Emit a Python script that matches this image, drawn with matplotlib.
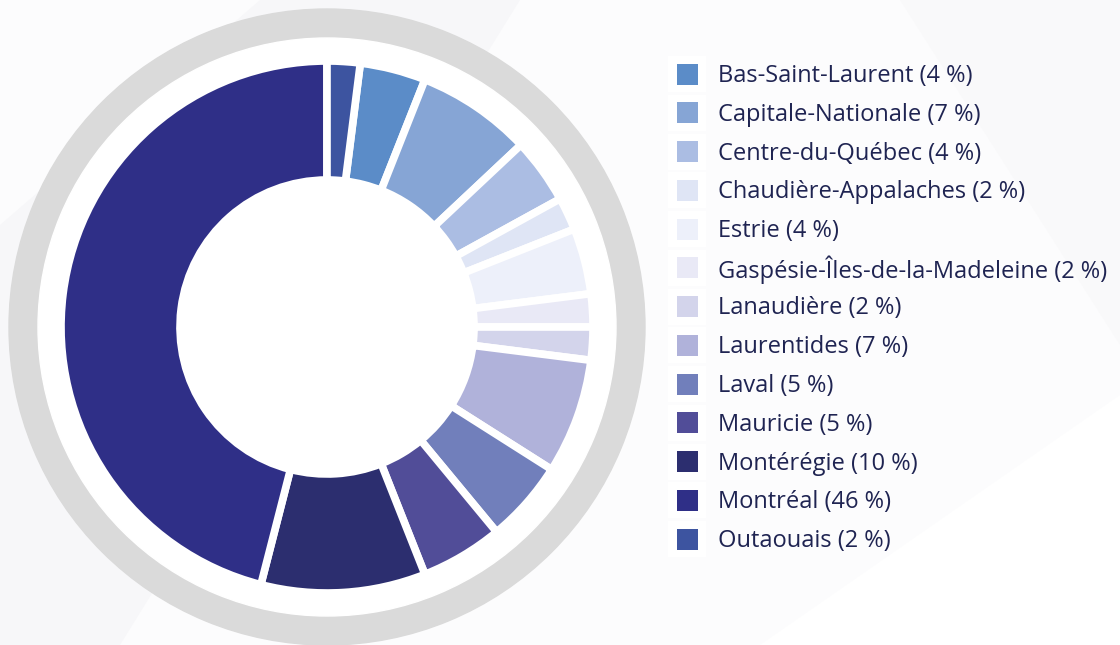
import matplotlib.pyplot as plt
from matplotlib.patches import Wedge, Rectangle, Polygon

# data
regions = ["Bas-Saint-Laurent", "Capitale-Nationale", "Centre-du-Québec",
           "Chaudière-Appalaches", "Estrie", "Gaspésie-Îles-de-la-Madeleine",
           "Lanaudière", "Laurentides", "Laval", "Mauricie", "Montérégie",
           "Montréal", "Outaouais"]
shares = [4, 7, 4, 2, 4, 2, 2, 7, 5, 5, 10, 46, 2]
colors = ["#5b8cc8", "#86a5d5", "#abbde3", "#dfe5f5", "#edf0fa", "#e9e9f6",
          "#d3d4eb", "#b0b2da", "#717fbb", "#514d98", "#2c2e6f", "#2f2f87",
          "#3d54a0"]

plt.rcParams['font.family'] = ['Open Sans', 'DejaVu Sans']

fig = plt.figure(figsize=(11.2, 6.45), dpi=100)
fig.patch.set_facecolor("#fcfcfd")
ax = fig.add_axes([0, 0, 1, 1])
ax.set_xlim(0, 1120)
ax.set_ylim(0, 645)
ax.set_aspect("equal")
ax.axis("off")

# faint background shapes
ax.add_patch(Polygon([[0, 0], [0, 420], [260, 645], [520, 645], [120, 0]],
                     color="#f7f7f9", zorder=0, lw=0))
ax.add_patch(Polygon([[640, 645], [1120, 645], [1120, 300], [900, 645]],
                     color="#f9f9fa", zorder=0, lw=0))
ax.add_patch(Polygon([[1120, 0], [1120, 250], [760, 0]],
                     color="#ffffff", zorder=0, lw=0))

cx, cy = 327, 645 - 327

# grey outer ring
ax.add_patch(Wedge((cx, cy), 318, 0, 360, width=29, color="#dadada", zorder=1))
ax.add_patch(Wedge((cx, cy), 289, 0, 360, color="white", zorder=1))

start = 90 - 360 * shares[-1] / sum(shares)
wedges, _ = ax.pie(shares, colors=colors, center=(cx, cy), radius=266,
                   startangle=start, counterclock=False,
                   wedgeprops=dict(width=119, edgecolor="white", linewidth=5.5))
for w in wedges:
    w.set_zorder(2)
ax.set_xlim(0, 1120)
ax.set_ylim(0, 645)

# legend
y0 = 645 - 74
step = 38.75
for i, (name, val, c) in enumerate(zip(regions, shares, colors)):
    y = y0 - i * step
    ax.add_patch(Rectangle((668, y - 18), 38, 36, color="white", zorder=2, lw=0))
    ax.add_patch(Rectangle((677, y - 10.5), 21, 21, color=c, zorder=3, lw=0))
    ax.text(718, y - 2, f"{name} ({val} %)", fontsize=17, color="#1f2452",
            va="center", ha="left", zorder=3)

fig.savefig("out.png", dpi=100, facecolor=fig.get_facecolor())
